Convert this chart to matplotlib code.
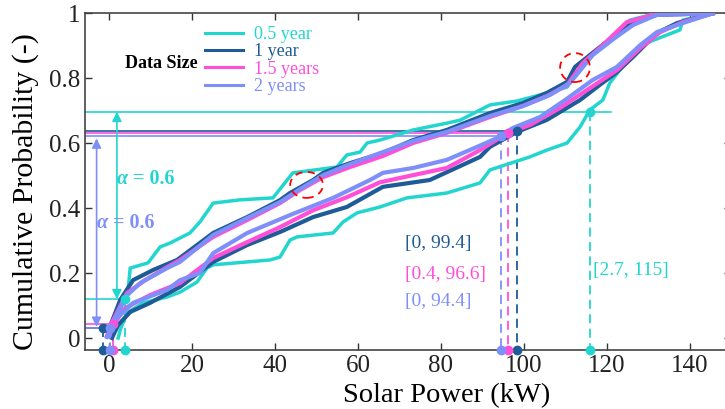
import numpy as np
import matplotlib
matplotlib.use('Agg')
from matplotlib import pyplot as plt
from matplotlib.patches import Ellipse
from matplotlib.transforms import offset_copy

plt.rcParams['font.family'] = ['Liberation Serif', 'DejaVu Serif']

# series: data size, colour
sizes = ['0.5 year', '1 year', '1.5 years', '2 years']
colors = ['#22d6cf', '#1d5c97', '#ff4fd9', '#7f8ff9']

# upper (left) bound CDF curves, solar power in kW / cumulative probability
up_kw = [
    [0.5, 1.4, 3.1, 4.6, 5.1, 9.4, 12.3, 14.7, 19.5, 21.9, 25.1, 31.6, 39.5, 44.3, 54.9, 57.3, 60.5, 62.2,
     65.3, 73.3, 81.4, 84.6, 91.8, 98.3, 103.9, 110.4, 114.2, 119.0, 125.5, 132.0, 145.5],
    [0.0, 0.2, 2.7, 5.8, 10.6, 16.4, 25.1, 33.3, 41.2, 43.6, 49.2, 51.6, 58.1, 66.0, 73.3, 81.4, 91.8,
     99.8, 105.5, 110.4, 112.3, 118.3, 125.5, 132.0, 145.5],
    [-0.5, 0.2, 1.0, 4.3, 8.7, 14.0, 17.1, 25.1, 33.3, 41.2, 46.0, 51.6, 58.1, 66.0, 73.3, 81.4, 91.8,
     99.8, 105.5, 110.4, 114.2, 119.0, 124.8, 132.0, 145.5],
    [0.0, 0.7, 3.9, 7.5, 14.0, 17.1, 25.1, 33.3, 41.2, 46.0, 51.6, 58.1, 66.0, 73.3, 81.4, 91.8, 99.8,
     106.3, 111.1, 116.6, 121.9, 126.3, 132.0, 145.5],
]
up_p = [
    [0.007, 0.041, 0.099, 0.149, 0.216, 0.232, 0.281, 0.293, 0.324, 0.358, 0.416, 0.426, 0.432, 0.509, 0.527,
     0.564, 0.573, 0.601, 0.61, 0.641, 0.662, 0.671, 0.718, 0.73, 0.749, 0.773, 0.847, 0.896, 0.979, 1.0, 1.0],
    [0.01, 0.035, 0.118, 0.179, 0.21, 0.241, 0.324, 0.373, 0.425, 0.447, 0.487, 0.509, 0.539, 0.57, 0.61,
     0.641, 0.693, 0.724, 0.755, 0.789, 0.835, 0.896, 0.97, 0.995, 1.0],
    [0.007, 0.032, 0.056, 0.139, 0.179, 0.219, 0.241, 0.312, 0.364, 0.416, 0.456, 0.496, 0.527, 0.561, 0.601,
     0.632, 0.681, 0.715, 0.745, 0.779, 0.847, 0.902, 0.973, 0.998, 1.0],
    [0.007, 0.041, 0.127, 0.17, 0.216, 0.235, 0.318, 0.37, 0.419, 0.459, 0.502, 0.536, 0.573, 0.607, 0.635,
     0.684, 0.715, 0.749, 0.786, 0.872, 0.924, 0.964, 0.995, 1.0],
]

# lower (right) bound CDF curves
lo_kw = [
    [2.2, 2.7, 4.3, 8.2, 14.0, 17.1, 21.2, 23.6, 25.1, 38.8, 41.2, 43.6, 45.3, 54.0, 56.4, 59.8, 65.3, 71.8,
     81.4, 89.4, 91.8, 101.4, 105.5, 110.4, 113.5, 115.9, 119.0, 120.7, 125.5, 129.6, 137.6, 138.3, 145.5],
    [0.7, 2.2, 5.1, 9.9, 17.1, 25.1, 33.3, 41.2, 49.2, 57.3, 66.0, 77.3, 89.4, 91.8, 98.3, 105.5, 113.5,
     118.3, 122.4, 126.3, 132.0, 136.9, 142.4, 145.5],
    [0.2, 1.0, 3.9, 9.9, 17.1, 25.1, 33.3, 41.2, 49.2, 57.3, 65.3, 73.3, 81.4, 89.4, 96.1, 101.4, 108.7,
     115.9, 122.4, 128.0, 132.8, 138.3, 145.5],
    [-0.5, 1.4, 5.8, 14.0, 17.1, 21.9, 25.1, 33.3, 43.6, 54.0, 62.9, 66.0, 73.3, 81.4, 88.7, 93.5, 97.3,
     103.9, 109.9, 116.6, 122.4, 128.0, 132.0, 138.3, 145.5],
]
lo_p = [
    [0.001, 0.026, 0.078, 0.109, 0.127, 0.142, 0.173, 0.216, 0.226, 0.241, 0.25, 0.302, 0.312, 0.324, 0.358,
     0.386, 0.404, 0.432, 0.447, 0.478, 0.518, 0.558, 0.579, 0.601, 0.65, 0.703, 0.733, 0.786, 0.866, 0.909,
     0.949, 0.979, 1.0],
    [0.001, 0.041, 0.081, 0.109, 0.158, 0.235, 0.287, 0.327, 0.373, 0.404, 0.466, 0.487, 0.558, 0.589, 0.635,
     0.672, 0.733, 0.78, 0.819, 0.866, 0.939, 0.97, 0.989, 1.0],
    [0.01, 0.041, 0.093, 0.133, 0.17, 0.247, 0.296, 0.342, 0.394, 0.434, 0.48, 0.502, 0.524, 0.579, 0.632,
     0.656, 0.709, 0.77, 0.825, 0.893, 0.942, 0.973, 1.0],
    [0.004, 0.056, 0.109, 0.149, 0.179, 0.201, 0.262, 0.324, 0.379, 0.432, 0.487, 0.509, 0.524, 0.549, 0.589,
     0.616, 0.647, 0.681, 0.733, 0.795, 0.835, 0.902, 0.942, 0.97, 1.0],
]

# prediction interval end points (as marked) and probability levels
int_lo_kw = [3.9, -1.5, 1.0, 0.2]
int_hi_kw = [115.9, 98.3, 96.1, 94.4]
lvl_lo = [0.12, 0.033, 0.043, 0.031]
lvl_hi = [0.697, 0.638, 0.631, 0.623]
hline_end_kw = [121.0, 98.3, 96.1, 94.4]
int_text = ['[2.7, 115]', '[0, 99.4]', '[0.4, 96.6]', '[0, 94.4]']

fig = plt.figure(figsize=(7.25, 4.09), dpi=100)
ax = fig.add_axes([0.1172, 0.1443, 0.8917, 0.8232])
ax.set_xlim(-5.8, 150)
ax.set_ylim(-0.036, 1.0)
ybot = -0.036

for i in range(4):
    lw = 2.5 if i == 0 else 3.0
    ax.plot(up_kw[i], up_p[i], color=colors[i], lw=lw, label=sizes[i], zorder=3 + i)
    ax.plot(lo_kw[i], lo_p[i], color=colors[i], lw=lw, zorder=3 + i)

for i in range(4):
    c = colors[i]
    ax.plot([-5.8, int_lo_kw[i]], [lvl_lo[i]] * 2, color=c, lw=1.2, zorder=2)
    ax.plot([-5.8, hline_end_kw[i]], [lvl_hi[i]] * 2, color=c, lw=1.2, zorder=2)
    ax.plot([int_lo_kw[i]] * 2, [lvl_lo[i], ybot], color=c, lw=1.3, ls=(0, (5, 3)), zorder=2)
    ax.plot([int_hi_kw[i]] * 2, [lvl_hi[i], ybot], color=c, lw=1.3, ls=(0, (5, 3)), zorder=2)
    ax.plot([int_lo_kw[i], int_hi_kw[i]], [lvl_lo[i], lvl_hi[i]], 'o', color=c, ms=6, zorder=10, clip_on=False)
    ax.plot([int_lo_kw[i], int_hi_kw[i]], [ybot, ybot], 'o', color=c, ms=6, zorder=10, clip_on=False)

# alpha arrows
ax.annotate('', xy=(1.9, lvl_hi[0]), xytext=(1.9, lvl_lo[0]),
            arrowprops=dict(arrowstyle='<|-|>', color=colors[0], lw=1.2, mutation_scale=14, shrinkA=0, shrinkB=0))
ax.annotate('', xy=(-3.0, 0.615), xytext=(-3.0, 0.035),
            arrowprops=dict(arrowstyle='<|-|>', color=colors[3], lw=1.2, mutation_scale=14, shrinkA=0, shrinkB=0))
for (tx, ty, c) in [(1.9, 0.49, colors[0]), (-2.9, 0.355, colors[3])]:
    ax.text(tx, ty, '\u03b1', color=c, fontsize=14.5, fontweight='bold', style='italic', ha='left', va='center')
    ax.text(tx, ty, '= 0.6', color=c, fontsize=14.5, fontweight='bold', ha='left', va='center',
            transform=offset_copy(ax.transData, fig=fig, x=16, y=0, units='dots'))

# interval labels
ax.text(71.3, 0.293, int_text[1], color=colors[1], fontsize=14, ha='left', va='center')
ax.text(71.3, 0.195, int_text[2], color=colors[2], fontsize=14, ha='left', va='center')
ax.text(71.3, 0.112, int_text[3], color=colors[3], fontsize=14, ha='left', va='center')
ax.text(116.6, 0.21, int_text[0], color=colors[0], fontsize=14, ha='left', va='center')

# highlighted crossings
ax.add_patch(Ellipse((47.6, 0.472), 7.9, 0.08, fill=False, ec='red', lw=1.3, ls=(0, (4, 3)), zorder=12))
ax.add_patch(Ellipse((112.3, 0.833), 7.2, 0.089, fill=False, ec='red', lw=1.3, ls=(0, (4, 3)), zorder=12))

ax.set_xticks([0, 20, 40, 60, 80, 100, 120, 140])
ax.set_yticks([0, 0.2, 0.4, 0.6, 0.8, 1.0])
ax.set_yticklabels(['0', '0.2', '0.4', '0.6', '0.8', '1'])
ax.tick_params(direction='in', length=5, width=1, labelsize=18, top=True, right=True, colors='#333333',
               labelcolor='#222222')
for s in ax.spines.values():
    s.set_linewidth(1.2)
    s.set_color('#444444')

ax.set_xlabel('Solar Power (kW)', fontsize=20.5)
ax.xaxis.set_label_coords(0.56, -0.097)
ax.set_ylabel('Cumulative Probability (-)', fontsize=21.5)
ax.yaxis.set_label_coords(-0.071, 0.47)

leg = ax.legend(loc='upper left', bbox_to_anchor=(205 / 725, 1 - 26 / 409), bbox_transform=fig.transFigure,
                frameon=False, fontsize=13, labelcolor='linecolor', handlelength=2.1, handletextpad=0.6,
                labelspacing=0.02, borderpad=0, borderaxespad=0)
for h in leg.get_lines():
    h.set_linewidth(2.2)
fig.text(161 / 725, 1 - 63 / 409, 'Data Size', fontsize=13, fontweight='bold', ha='center', va='center')

fig.savefig('out.png', dpi=100)
